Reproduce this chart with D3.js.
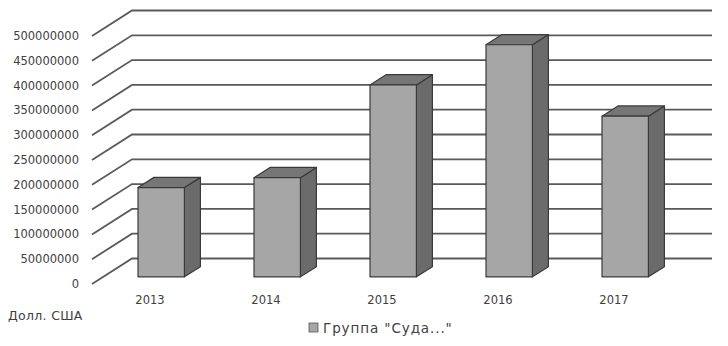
<!DOCTYPE html>
<html><head><meta charset="utf-8">
<script src="https://cdn.jsdelivr.net/npm/d3@7"></script>
<style>body{margin:0;background:#fff}svg{display:block}text{font-family:"DejaVu Sans",sans-serif;fill:#404040}</style>
</head><body><svg id="c" width="728" height="346"></svg>
<script>
const categories = ["2013","2014","2015","2016","2017"];
const values = [180000000, 200000000, 387000000, 468000000, 324000000];
const yTicks = [0,50000000,100000000,150000000,200000000,250000000,300000000,350000000,400000000,450000000,500000000];
const seriesName = 'Группа "Суда..."';
const unitLabel = "Долл. США";

const svg = d3.select("#c");
const DX = 40, DY = -25.5;           // wall depth offset
const x = d3.scaleBand().domain(categories).range([92, 672]);
const y = d3.scaleLinear().domain([0, 500000000]).range([284, 36]);
const fFront = 0.28, fBack = 0.68;  // bar depth fractions
const barFrac = 0.4;

// gridlines (side wall diagonal + back wall)
const grid = svg.append("g");
yTicks.forEach(v => {
  const yy = y(v);
  grid.append("path")
    .attr("d", `M${x.range()[0]},${yy}L${x.range()[0]+DX},${yy+DY}L${x.range()[1]+DX},${yy+DY}`)
    .attr("fill","none").attr("stroke","#5a5a5a").attr("stroke-width",1.8);
});

// y labels
svg.append("g").selectAll("text").data(yTicks).join("text")
  .attr("x", 79).attr("y", d => y(d)).attr("dy","0.35em")
  .attr("text-anchor","end").attr("font-size","11.5px")
  .text(d => d3.format("d")(d));

// bars
const bars = svg.append("g");
categories.forEach((c, i) => {
  const v = values[i];
  const bw = x.bandwidth()*barFrac;
  const x0 = x(c) + (x.bandwidth()-bw)/2 + fFront*DX;
  const yb = y(0) + fFront*DY;
  const yt = yb - (y(0) - y(v));
  const ox = (fBack-fFront)*DX, oy = (fBack-fFront)*DY;
  const g = bars.append("g").attr("stroke","#3a3a3a").attr("stroke-width",1.2).attr("stroke-linejoin","round");
  g.append("path").attr("fill","#6b6b6b")
    .attr("d",`M${x0+bw},${yt}L${x0+bw+ox},${yt+oy}L${x0+bw+ox},${yb+oy}L${x0+bw},${yb}Z`);
  g.append("path").attr("fill","#767676")
    .attr("d",`M${x0},${yt}L${x0+ox},${yt+oy}L${x0+bw+ox},${yt+oy}L${x0+bw},${yt}Z`);
  g.append("rect").attr("x",x0).attr("y",yt).attr("width",bw).attr("height",yb-yt).attr("fill","#a6a6a6");
});

// x labels
svg.append("g").selectAll("text").data(categories).join("text")
  .attr("x", d => x(d)+x.bandwidth()/2).attr("y", 300).attr("dy","0.35em")
  .attr("text-anchor","middle").attr("font-size","11.5px").text(d=>d);

// unit label
svg.append("text").attr("x",8).attr("y",316).attr("dy","0.35em").attr("font-size","12.5px")
  .attr("letter-spacing","0.3px").text(unitLabel);

// legend
svg.append("rect").attr("x",309).attr("y",323).attr("width",9).attr("height",9)
  .attr("fill","#a6a6a6").attr("stroke","#555").attr("stroke-width",0.8);
svg.append("text").attr("x",323).attr("y",328).attr("dy","0.35em").attr("font-size","13.5px")
  .attr("letter-spacing","0.9px").text(seriesName);
</script></body></html>
